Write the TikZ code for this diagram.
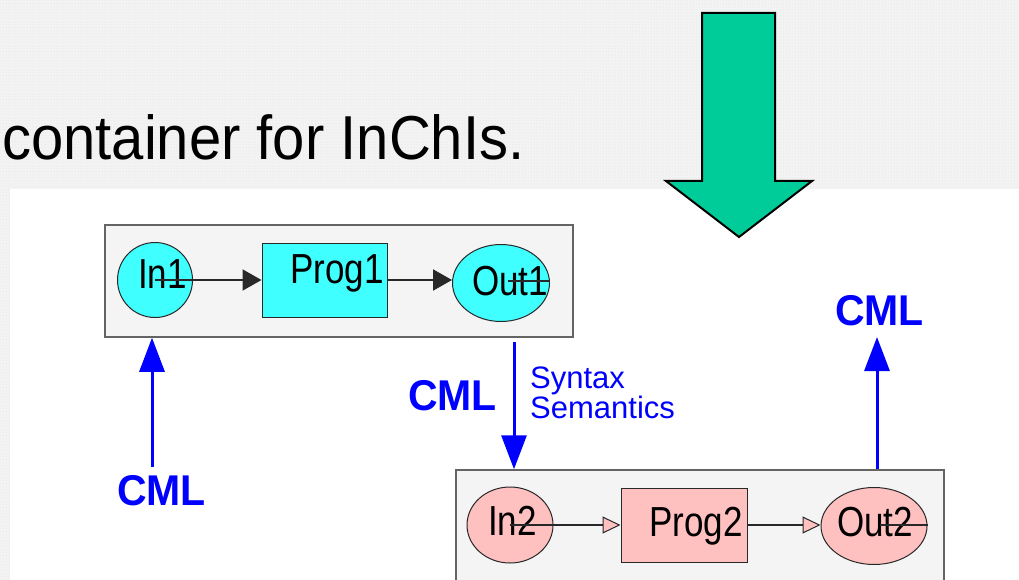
\documentclass[tikz,border=0pt]{standalone}
\usepackage{fontspec}
\setmainfont{Liberation Sans}
\usetikzlibrary{arrows.meta,patterns,calc,shapes.geometric}
\definecolor{bggrey}{RGB}{243,243,243}
\definecolor{dotgrey}{RGB}{222,222,222}
\definecolor{boxfill}{RGB}{244,244,244}
\definecolor{boxline}{RGB}{100,100,100}
\definecolor{cyanfill}{RGB}{64,255,255}
\definecolor{pinkfill}{RGB}{255,192,192}
\definecolor{greenfill}{RGB}{0,204,153}
\definecolor{cmlblue}{RGB}{0,0,255}
\definecolor{darkline}{RGB}{40,40,40}
\tikzset{
  panel/.style={draw=boxline, line width=1.5pt, fill=boxfill, inner sep=0pt},
  cyanshape/.style={draw=darkline, line width=1pt, fill=cyanfill, inner sep=0pt},
  pinkshape/.style={draw=darkline, line width=1pt, fill=pinkfill, inner sep=0pt},
  lbl/.style={anchor=base west, inner sep=0pt, font=\fontsize{35}{40}\selectfont, text=black},
  conn1/.style={draw=darkline, line width=2pt, -{Triangle[length=19pt,width=21pt,fill=darkline]}},
  conn2/.style={draw=darkline, line width=1.8pt, -{Triangle[open, length=18pt,width=17pt,fill=pinkfill,line width=1pt]}},
  plainline/.style={draw=darkline, line width=1.2pt},
  bluearrow/.style={draw=cmlblue, line width=3pt, -{Triangle[length=34pt,width=25pt]}},
  cml/.style={anchor=base west, inner sep=0pt, text=cmlblue, font=\fontsize{41}{46}\selectfont\bfseries},
  bluetext/.style={anchor=base west, inner sep=0pt, text=cmlblue, font=\fontsize{31}{36}\selectfont},
}
\newcommand{\vst}[1]{\scalebox{1}[1.2]{#1}}
\begin{document}
\begin{tikzpicture}[x=1pt,y=-1pt]
\useasboundingbox (0,0) rectangle (1019,580);
\begin{scope}
\clip (0,0) rectangle (1019,580);
% background
\fill[bggrey] (0,0) rectangle (1019,580);
\fill[pattern=dots, pattern color=dotgrey] (0,0) rectangle (1019,580);
\fill[white] (10,189) rectangle (1019,580);

% title text
\node[anchor=base west, inner sep=0pt, font=\fontsize{58}{64}\selectfont] (title) at (2,160) {\scalebox{1}[1.07]{container for InChIs.}};

% green arrow
\draw[fill=greenfill, line width=2pt, line join=miter] (702,13) -- (775,13) -- (775,181) -- (812,181) -- (739,237) -- (666,181) -- (702,181) -- cycle;

% panel 1
\node[panel, minimum width=468pt, minimum height=112pt] (box1) at (339,281) {};
\node[cyanshape, circle, minimum size=75pt] (In1) at (155,280) {};
\node[cyanshape, rectangle, minimum width=125pt, minimum height=74pt] (Prog1) at (324.5,280) {};
\node[cyanshape, ellipse, minimum width=97pt, minimum height=77pt] (Out1) at (501,283) {};
\node[lbl] (In1t) at (138,288) {\vst{In1}};
\node[lbl] (Prog1t) at (290,283) {\vst{Prog1}};
\node[lbl] (Out1t) at (472,295) {\vst{Out1}};
\draw[conn1] (In1.center) -- (Prog1.west);
\draw[conn1] (Prog1.east) -- (Prog1.east -| Out1.west);
\draw[plainline] ($(Out1.center)+(7,-2)$) -- ($(Out1.east)+(0,-2)$);

% panel 2
\node[panel, minimum width=488pt, minimum height=170pt] (box2) at (700,555) {};
\node[pinkshape, ellipse, minimum width=86pt, minimum height=76pt] (In2) at (510,525) {};
\node[pinkshape, rectangle, minimum width=126pt, minimum height=74pt] (Prog2) at (684,525) {};
\node[pinkshape, ellipse, minimum width=106pt, minimum height=77pt] (Out2) at (874,526) {};
\node[lbl] (In2t) at (488,535) {\vst{In2}};
\node[lbl] (Prog2t) at (649,536) {\vst{Prog2}};
\node[lbl] (Out2t) at (837,536) {\vst{Out2}};
\draw[conn2] (In2.center) -- (Prog2.west);
\draw[conn2] (Prog2.east) -- (Prog2.east -| Out2.west);
\draw[plainline] ($(Out2.center)+(6,-1)$) -- ($(Out2.east)+(0,-1)$);

% blue arrows and labels
\coordinate (leftstart) at (152,467);
\draw[bluearrow] (leftstart) -- (leftstart |- box1.south);
\node[cml] (cmlL) at (117,505) {\scalebox{1}[1.05]{CML}};

\coordinate (midstart) at (514,342);
\draw[bluearrow] (midstart) -- (midstart |- box2.north);
\node[cml] (cmlM) at (408,410) {\scalebox{1}[1.05]{CML}};
\node[bluetext] (syn) at (530,388) {Syntax};
\node[bluetext] (sem) at (530,418) {Semantics};

\coordinate (rightend) at (877,337);
\draw[bluearrow] (rightend |- box2.north) -- (rightend);
\node[cml] (cmlR) at (835,325) {\scalebox{1}[1.05]{CML}};
\end{scope}
\end{tikzpicture}
\end{document}
